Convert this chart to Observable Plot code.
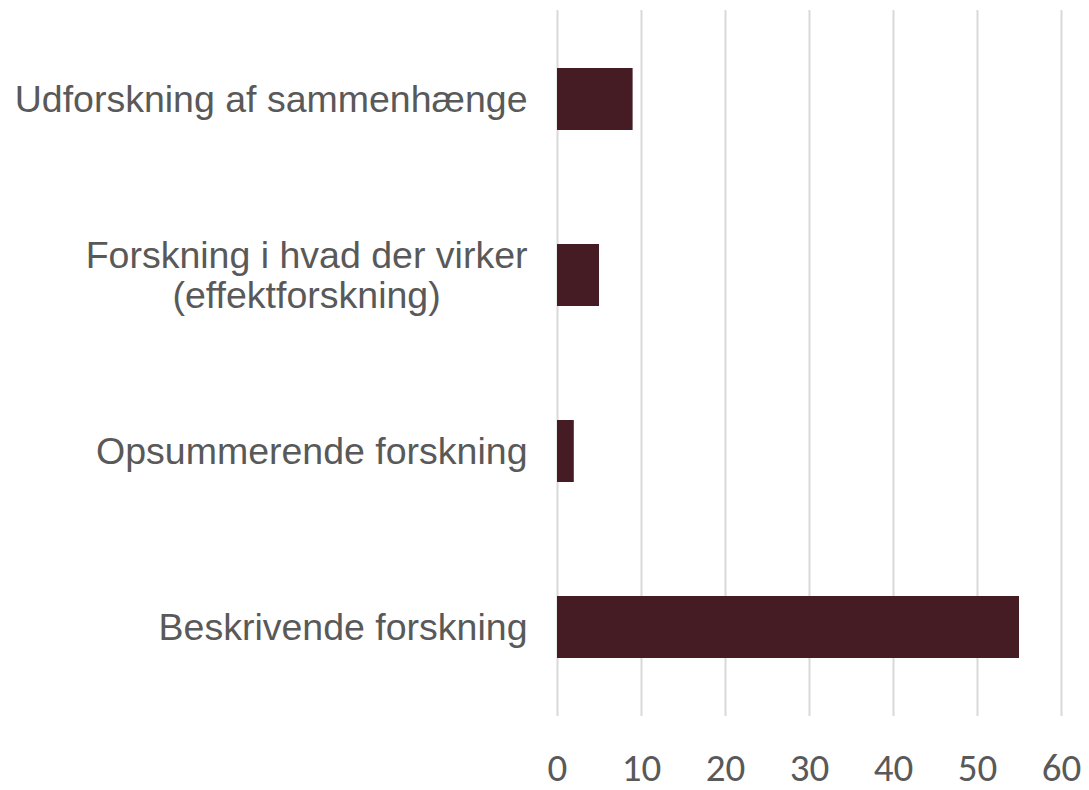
<!DOCTYPE html>
<html><head><meta charset="utf-8">
<script src="https://cdn.jsdelivr.net/npm/d3@7"></script>
<script src="https://cdn.jsdelivr.net/npm/@observablehq/plot@0.6"></script>
<style>body{margin:0;background:#fff;}</style>
</head><body><div id="chart"></div>
<script>
const categories = [
  "Udforskning af sammenhænge",
  "Forskning i hvad der virker\n(effektforskning)",
  "Opsummerende forskning",
  "Beskrivende forskning"
];
const values = [9, 5, 2, 55];
const xTicks = [0, 10, 20, 30, 40, 50, 60];

const data = categories.map((c, i) => ({category: c, value: values[i]}));

const chart = Plot.plot({
  width: 1089,
  height: 790,
  marginLeft: 557,
  marginRight: 28,
  marginTop: 10,
  marginBottom: 74,
  style: {fontFamily: "'Liberation Sans', Arial, sans-serif", color: "#595959", background: "#fff"},
  x: {domain: [0, 60], ticks: xTicks},
  y: {domain: categories, paddingInner: 0.65, paddingOuter: 0.325},
  marks: [
    Plot.gridX({ticks: xTicks, stroke: "#D9D9D9", strokeOpacity: 1, strokeWidth: 2}),
    Plot.barX(data, {x: "value", y: "category", fill: "#461C24"}),
    Plot.axisX({ticks: xTicks, tickSize: 0, tickPadding: 37, fontSize: 39, label: null,
      fontFamily: "Carlito, 'Liberation Sans', Arial, sans-serif"}),
    Plot.axisY({tickSize: 0, tickPadding: 30, fontSize: 37.5, label: null, lineHeight: 1.07})
  ]
});
document.getElementById("chart").appendChild(chart);

// center the lines of multi-line category labels on each other
chart.querySelectorAll("text").forEach(t => {
  const spans = t.querySelectorAll("tspan");
  if (spans.length > 1) {
    const bb = t.getBBox();
    const cx = bb.x + bb.width / 2;
    t.setAttribute("text-anchor", "middle");
    spans.forEach(s => s.setAttribute("x", cx));
  }
});
</script>
</body></html>
